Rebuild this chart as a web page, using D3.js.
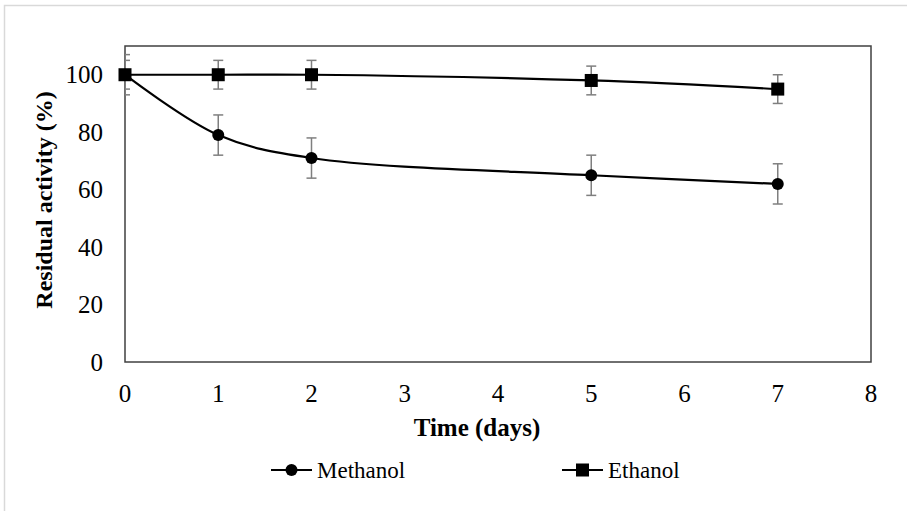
<!DOCTYPE html>
<html>
<head>
<meta charset="utf-8">
<script src="https://cdn.jsdelivr.net/npm/d3@7"></script>
<style>
  body { margin: 0; background: #fff; }
  text { font-family: "Liberation Serif", "Times New Roman", serif; fill: #000; }
</style>
</head>
<body>
<div id="chart"></div>
<script>
const days = [0, 1, 2, 5, 7];
const methanol = [100, 79, 71, 65, 62];
const methanolErr = [7, 7, 7, 7, 7];
const ethanol = [100, 100, 100, 98, 95];
const ethanolErr = [5, 5, 5, 5, 5];
const xTicks = [0, 1, 2, 3, 4, 5, 6, 7, 8];
const yTicks = [0, 20, 40, 60, 80, 100];

const W = 907, H = 511;
const margin = {top: 46, right: 36, bottom: 149, left: 125},
      width = W - margin.left - margin.right,
      height = H - margin.top - margin.bottom;

const svg = d3.select("#chart").append("svg")
    .attr("width", W)
    .attr("height", H);

// outer frame
svg.append("rect")
   .attr("x", 4.5).attr("y", 5.5)
   .attr("width", W + 10).attr("height", H + 10)
   .attr("fill", "none")
   .attr("stroke", "#d9d9d9")
   .attr("stroke-width", 1.5);

const g = svg.append("g")
    .attr("transform", `translate(${margin.left},${margin.top})`);

const x = d3.scaleLinear().domain([0, 8]).range([0, width]);
const y = d3.scaleLinear().domain([0, 110]).range([height, 0]);

g.append("defs").append("clipPath").attr("id", "plotclip")
 .append("rect").attr("width", width).attr("height", height);

// plot border
g.append("rect")
 .attr("width", width).attr("height", height)
 .attr("fill", "none")
 .attr("stroke", "#404040")
 .attr("stroke-width", 1.5);

// tick labels
g.selectAll(".xt").data(xTicks).enter().append("text")
 .attr("x", d => x(d))
 .attr("y", height + 40)
 .attr("text-anchor", "middle")
 .attr("font-size", 25)
 .text(d => d);

g.selectAll(".yt").data(yTicks).enter().append("text")
 .attr("x", -22)
 .attr("y", d => y(d))
 .attr("dy", "0.35em")
 .attr("text-anchor", "end")
 .attr("font-size", 25)
 .text(d => d);

// axis titles
g.append("text")
 .attr("x", width / 2 - 21)
 .attr("y", height + 74)
 .attr("text-anchor", "middle")
 .attr("font-size", 25)
 .attr("font-weight", "bold")
 .text("Time (days)");

g.append("text")
 .attr("transform", `translate(-73,${height / 2 - 4}) rotate(-90)`)
 .attr("text-anchor", "middle")
 .attr("font-size", 24)
 .attr("font-weight", "bold")
 .text("Residual activity (%)");

const series = [
  {name: "Methanol", values: methanol, err: methanolErr, marker: "circle"},
  {name: "Ethanol", values: ethanol, err: ethanolErr, marker: "square"}
];

const plot = g.append("g").attr("clip-path", "url(#plotclip)");

// error bars
series.forEach(s => {
  const eb = plot.append("g").attr("stroke", "#7f7f7f").attr("stroke-width", 1.5);
  days.forEach((d, i) => {
    const cx = x(d), lo = y(s.values[i] - s.err[i]), hi = y(s.values[i] + s.err[i]);
    eb.append("line").attr("x1", cx).attr("x2", cx).attr("y1", lo).attr("y2", hi);
    eb.append("line").attr("x1", cx - 5).attr("x2", cx + 5).attr("y1", lo).attr("y2", lo);
    eb.append("line").attr("x1", cx - 5).attr("x2", cx + 5).attr("y1", hi).attr("y2", hi);
  });
});

const line = d3.line()
    .x((d, i) => x(days[i]))
    .y(d => y(d))
    .curve(d3.curveCatmullRom.alpha(0.5));

series.forEach(s => {
  g.append("path")
   .datum(s.values)
   .attr("fill", "none")
   .attr("stroke", "#000")
   .attr("stroke-width", 2.2)
   .attr("d", line);
});

function drawMarker(sel, type, cx, cy) {
  if (type === "circle") {
    sel.append("circle").attr("cx", cx).attr("cy", cy).attr("r", 6).attr("fill", "#000");
  } else {
    sel.append("rect").attr("x", cx - 6.5).attr("y", cy - 6.5)
       .attr("width", 13).attr("height", 13).attr("fill", "#000");
  }
}

series.forEach(s => {
  days.forEach((d, i) => drawMarker(g, s.marker, x(d), y(s.values[i])));
});

// legend
const legendX = [271, 562];
series.forEach((s, i) => {
  const lg = svg.append("g").attr("transform", `translate(${legendX[i]},470)`);
  lg.append("line").attr("x1", 0).attr("x2", 41).attr("y1", 0).attr("y2", 0)
    .attr("stroke", "#000").attr("stroke-width", 2.2);
  drawMarker(lg, s.marker, 20.5, 0);
  lg.append("text")
    .attr("x", 46)
    .attr("y", 0)
    .attr("dy", "0.35em")
    .attr("font-size", 23)
    .text(s.name);
});
</script>
</body>
</html>
